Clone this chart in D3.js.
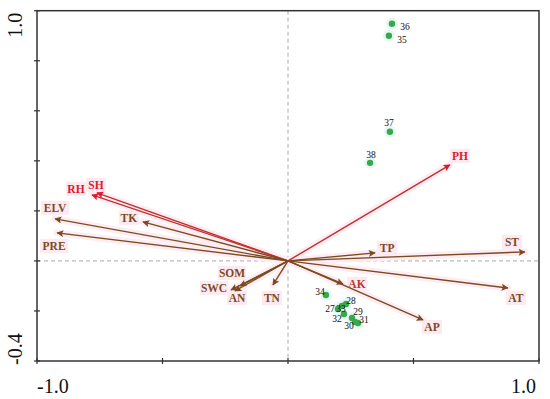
<!DOCTYPE html>
<html>
<head>
<meta charset="utf-8">
<script src="https://cdn.jsdelivr.net/npm/d3@7"></script>
<style>
  body { margin: 0; background: #fff; }
  svg { display: block; }
  text { font-family: "Liberation Serif", "Times New Roman", serif; }
</style>
</head>
<body>
<svg id="chart" width="550" height="399"></svg>
<script>
// environmental vectors (RDA loadings)
var envNames = ["ST", "TP", "AT", "AP", "AK", "PH", "SH", "RH", "ELV", "PRE", "TK", "SOM", "SWC", "AN", "TN"];
var envX = [0.944, 0.347, 0.876, 0.538, 0.219, 0.645, -0.761, -0.781, -0.928, -0.920, -0.578, -0.191, -0.227, -0.211, -0.060];
var envY = [0.036, 0.032, -0.108, -0.236, -0.092, 0.384, 0.272, 0.264, 0.168, 0.112, 0.156, -0.100, -0.116, -0.120, -0.096];
var redVars = ["PH", "SH", "RH"];

// sample sites
var siteNames = ["36", "35", "37", "38", "34", "27", "33", "28", "32", "29", "30", "31"];
var siteX = [0.414, 0.402, 0.406, 0.327, 0.151, 0.199, 0.215, 0.231, 0.223, 0.255, 0.267, 0.279];
var siteY = [0.948, 0.900, 0.516, 0.392, -0.136, -0.192, -0.180, -0.172, -0.212, -0.228, -0.244, -0.248];

var xTicks = [-1, -0.5, 0, 0.5, 1];
var yTicks = [-0.4, -0.2, 0, 0.2, 0.4, 0.6, 0.8, 1.0];

// label offsets from arrow tip / point (layout only)
var envLabelOffset = {
  ST: [-13, -10], TP: [12, -5], AT: [8, 10], AP: [9, 7], AK: [14, 0],
  PH: [10, -9], SH: [-1, -8], RH: [-16, -6], ELV: [0, -11], PRE: [-3, 13],
  TK: [-14, -4], SOM: [-8, -13], SWC: [-17, -2], AN: [2, 7], TN: [-1, 13]
};
var siteLabelOffset = {
  "36": [13, 3], "35": [13, 4], "37": [-1, -9], "38": [1, -8], "34": [-6, -3],
  "27": [-8, 0], "33": [-1, 3], "28": [5, -3], "32": [-7, 5], "29": [6, -6],
  "30": [-6, 4], "31": [6, -3]
};

var plotLeft = 37, plotRight = 539, plotTop = 10.7, plotBottom = 361;

var x = d3.scaleLinear().domain([-1, 1]).range([plotLeft, plotRight]);
var y = d3.scaleLinear().domain([-0.4, 1.0]).range([plotBottom, plotTop]);

var svg = d3.select("#chart");

var brown = "#7b4a1f";
var red = "#e0182c";
var redLine = "#c0302c";

// arrow markers
var defs = svg.append("defs");
[["brownHead", brown], ["redHead", red]].forEach(function(m) {
  defs.append("marker")
    .attr("id", m[0])
    .attr("viewBox", "0 0 10 10")
    .attr("refX", 9)
    .attr("refY", 5)
    .attr("markerWidth", 9)
    .attr("markerHeight", 7)
    .attr("markerUnits", "userSpaceOnUse")
    .attr("orient", "auto")
    .append("path")
    .attr("d", "M0,0L10,5L0,10L2,5Z")
    .attr("fill", m[1]);
});

// dashed zero lines
svg.append("line")
  .attr("x1", x(0)).attr("x2", x(0))
  .attr("y1", plotTop).attr("y2", plotBottom)
  .attr("stroke", "#aaa").attr("stroke-dasharray", "4,3");
svg.append("line")
  .attr("x1", plotLeft).attr("x2", plotRight)
  .attr("y1", y(0)).attr("y2", y(0))
  .attr("stroke", "#aaa").attr("stroke-dasharray", "4,3");

var envData = envNames.map(function(n, i) {
  return { name: n, x: envX[i], y: envY[i], red: redVars.indexOf(n) >= 0 };
});
var siteData = siteNames.map(function(n, i) {
  return { name: n, x: siteX[i], y: siteY[i] };
});

// faint pink halo along the arrows
svg.append("g").selectAll("line")
  .data(envData)
  .enter().append("line")
  .attr("x1", x(0)).attr("y1", y(0))
  .attr("x2", d => x(d.x)).attr("y2", d => y(d.y))
  .attr("stroke", "#fdedf3")
  .attr("stroke-width", 7)
  .attr("stroke-linecap", "round");

// label backgrounds
var labG = svg.append("g");
envData.forEach(function(d) {
  var o = envLabelOffset[d.name];
  var w = d.name.length * 8 + 4;
  labG.append("rect")
    .attr("x", x(d.x) + o[0] - w / 2)
    .attr("y", y(d.y) + o[1] - 7)
    .attr("width", w)
    .attr("height", 14)
    .attr("fill", "#fdeaf1");
});

// site halo
svg.append("g").selectAll("circle")
  .data(siteData)
  .enter().append("circle")
  .attr("cx", d => x(d.x)).attr("cy", d => y(d.y))
  .attr("r", 6)
  .attr("fill", "#e6f8f6");

// arrows
svg.append("g").selectAll("line")
  .data(envData)
  .enter().append("line")
  .attr("x1", x(0)).attr("y1", y(0))
  .attr("x2", d => x(d.x)).attr("y2", d => y(d.y))
  .attr("stroke", d => d.red ? redLine : brown)
  .attr("stroke-width", 1.4)
  .attr("marker-end", d => d.red ? "url(#redHead)" : "url(#brownHead)");

// arrow labels
svg.append("g").selectAll("text")
  .data(envData)
  .enter().append("text")
  .attr("x", d => x(d.x) + envLabelOffset[d.name][0])
  .attr("y", d => y(d.y) + envLabelOffset[d.name][1])
  .attr("text-anchor", "middle")
  .attr("dominant-baseline", "central")
  .attr("font-size", 11.5)
  .attr("font-weight", "bold")
  .attr("fill", d => d.red ? red : (d.name === "AK" ? "#b8382a" : brown))
  .text(d => d.name);

// sites
svg.append("g").selectAll("circle")
  .data(siteData)
  .enter().append("circle")
  .attr("cx", d => x(d.x)).attr("cy", d => y(d.y))
  .attr("r", 3.2)
  .attr("fill", "#3aa84a");

svg.append("g").selectAll("text")
  .data(siteData)
  .enter().append("text")
  .attr("x", d => x(d.x) + siteLabelOffset[d.name][0])
  .attr("y", d => y(d.y) + siteLabelOffset[d.name][1])
  .attr("text-anchor", "middle")
  .attr("dominant-baseline", "central")
  .attr("font-size", 9.5)
  .attr("fill", "#111")
  .text(d => d.name);

// frame
svg.append("rect")
  .attr("x", plotLeft).attr("y", plotTop)
  .attr("width", plotRight - plotLeft).attr("height", plotBottom - plotTop)
  .attr("fill", "none")
  .attr("stroke", "#333")
  .attr("stroke-width", 1.5);

// ticks crossing the axis lines
svg.append("g").selectAll("line")
  .data(xTicks)
  .enter().append("line")
  .attr("x1", d => x(d)).attr("x2", d => x(d))
  .attr("y1", plotBottom - 3).attr("y2", plotBottom + 3)
  .attr("stroke", "#333").attr("stroke-width", 1.2);
svg.append("g").selectAll("line")
  .data(yTicks)
  .enter().append("line")
  .attr("x1", plotLeft - 3).attr("x2", plotLeft + 3)
  .attr("y1", d => y(d)).attr("y2", d => y(d))
  .attr("stroke", "#333").attr("stroke-width", 1.2);

// axis end labels
svg.append("text")
  .attr("x", plotLeft).attr("y", 393)
  .attr("font-size", 20)
  .attr("fill", "#111")
  .text("-1.0");
svg.append("text")
  .attr("x", plotRight - 3).attr("y", 393)
  .attr("text-anchor", "end")
  .attr("font-size", 20)
  .attr("fill", "#111")
  .text("1.0");
svg.append("text")
  .attr("transform", "translate(22," + (plotTop + 2) + ") rotate(-90)")
  .attr("text-anchor", "end")
  .attr("font-size", 20)
  .attr("fill", "#111")
  .text("1.0");
svg.append("text")
  .attr("transform", "translate(22," + (plotBottom + 4) + ") rotate(-90)")
  .attr("text-anchor", "start")
  .attr("font-size", 20)
  .attr("fill", "#111")
  .text("-0.4");
</script>
</body>
</html>
